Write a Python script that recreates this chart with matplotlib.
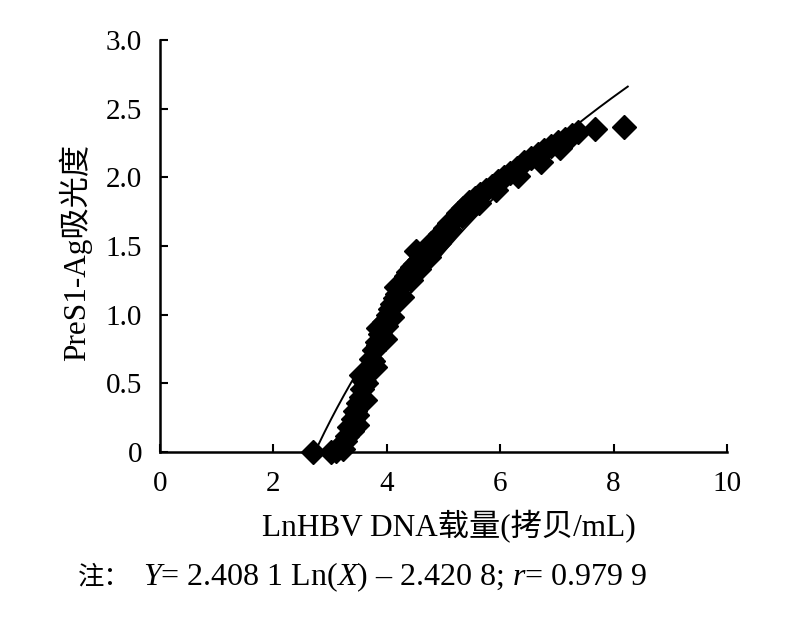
import numpy as np
import matplotlib
matplotlib.use("Agg")
import matplotlib.pyplot as plt

plt.rcParams['font.family'] = ['Liberation Serif', 'Noto Sans CJK SC', 'DejaVu Sans']
plt.rcParams['mathtext.fontset'] = 'custom'
plt.rcParams['mathtext.rm'] = 'Liberation Serif'
plt.rcParams['mathtext.it'] = 'Liberation Serif:italic'

# data
ln_dna = [2.70, 3.02, 3.10, 3.16, 3.22, 3.26, 3.30, 3.33, 3.38, 3.40, 3.44, 3.47,
          3.50, 3.55, 3.57, 3.60, 3.63, 3.65, 3.70, 3.72, 3.76, 3.78, 3.82, 3.85,
          3.88, 3.92, 3.95, 3.98, 4.02, 4.06, 4.10, 4.14, 4.18, 4.23, 4.28, 4.33,
          4.38, 4.44, 4.50, 4.56, 4.62, 4.70, 4.78, 4.86, 4.94, 5.02, 5.10, 5.18,
          5.26, 5.35, 5.45, 5.55, 5.65, 5.75, 5.86, 5.96, 6.06, 6.18, 6.30, 6.42,
          6.54, 6.66, 6.78, 6.90, 7.02, 7.14, 7.26, 7.38, 7.68, 8.18,
          3.48, 3.62, 3.80, 3.96, 4.10, 4.26, 4.42, 4.57, 4.74, 4.92, 5.12, 5.32,
          5.52, 3.55, 3.84, 4.16, 4.52, 5.62, 5.92, 6.32, 6.72, 7.06]
absorbance = [0.00, 0.00, 0.01, 0.04, 0.02, 0.08, 0.12, 0.18, 0.15, 0.24, 0.30, 0.27,
              0.36, 0.40, 0.46, 0.52, 0.50, 0.58, 0.62, 0.68, 0.66, 0.74, 0.80, 0.78,
              0.86, 0.90, 0.95, 0.92, 1.00, 1.04, 1.08, 1.12, 1.15, 1.20, 1.24, 1.28,
              1.31, 1.35, 1.37, 1.40, 1.43, 1.47, 1.52, 1.55, 1.59, 1.63, 1.67, 1.70,
              1.74, 1.78, 1.82, 1.85, 1.88, 1.91, 1.94, 1.97, 2.00, 2.03, 2.07, 2.11,
              2.14, 2.17, 2.20, 2.23, 2.26, 2.28, 2.31, 2.33, 2.35, 2.37,
              0.20, 0.38, 0.62, 0.82, 0.98, 1.13, 1.25, 1.33, 1.42, 1.52, 1.62, 1.72,
              1.80, 0.56, 0.90, 1.20, 1.46, 1.81, 1.91, 2.01, 2.11, 2.21]

fit_a = 2.4081
fit_b = -2.4208
fit_range = [2.68, 8.25]

x_ticks = [0, 2, 4, 6, 8, 10]
y_ticks = [0, 0.5, 1.0, 1.5, 2.0, 2.5, 3.0]
y_tick_labels = ['0', '0.5', '1.0', '1.5', '2.0', '2.5', '3.0']

W, H = 800, 617
fig = plt.figure(figsize=(8, 6.17), dpi=100)
ax = fig.add_axes([160 / W, 1 - 452 / H, (727 - 160) / W, (452 - 40) / H])

xf = np.linspace(fit_range[0], fit_range[1], 200)
ax.plot(xf, fit_a * np.log(xf) + fit_b, color='black', lw=1.4, zorder=2)
ax.plot(ln_dna, absorbance, linestyle='none', marker='D', markersize=12.5,
        color='black', clip_on=False, zorder=3)

ax.set_xlim(0, 10)
ax.set_ylim(0, 3.0)
ax.set_xticks(x_ticks)
ax.set_yticks(y_ticks)
ax.set_yticklabels(y_tick_labels)
for s in ['top', 'right']:
    ax.spines[s].set_visible(False)
for s in ['left', 'bottom']:
    ax.spines[s].set_linewidth(1.8)
ax.tick_params(axis='both', direction='in', length=6, width=1.5, labelsize=21)
ax.tick_params(axis='y', pad=13)
ax.tick_params(axis='x', pad=14)

fig.text(449 / W, 1 - 527 / H, 'LnHBV DNA载量(拷贝/mL)', ha='center', va='center', fontsize=22.5)
fig.text(75 / W, 1 - 252 / H, 'PreS1-Ag吸光度', ha='center', va='center', rotation=90, fontsize=22.5)
fig.text(78 / W, 1 - 577 / H, '注：', ha='left', va='center', fontsize=19,
         family=['Noto Sans CJK SC', 'DejaVu Sans'])
fig.text(143 / W, 1 - 577 / H, r'$\mathit{Y}$= 2.408 1 Ln($\mathit{X}$) – 2.420 8; $\mathit{r}$= 0.979 9',
         ha='left', va='center', fontsize=23)

fig.savefig('out.png', dpi=100)
